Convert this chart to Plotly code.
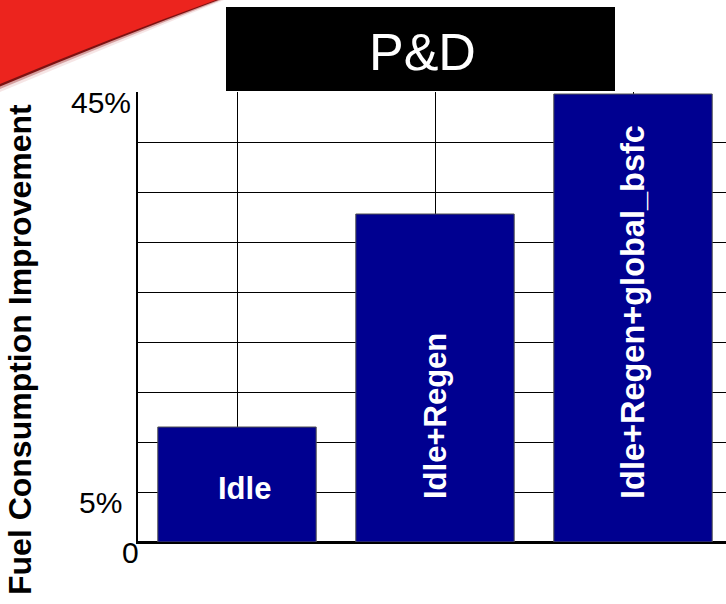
import plotly.graph_objects as go

# Chart data
categories = ["Idle", "Idle+Regen", "Idle+Regen+global_bsfc"]
improvement_pct = [11.5, 32.8, 44.8]
ytick_values = [45, 5, 0]
ytick_labels = ["45%", "5%", "0"]
title_text = "P&D"
y_title = "Fuel Consumption Improvement"

W, H = 726, 604
ML, MR, MT, MB = 138, 0, 92, 62
plot_w = W - ML - MR
plot_h = H - MT - MB
CAT_PX = 198.0  # pixels per category slot

FONT = "Liberation Sans, Arial, sans-serif"
BAR_BLUE = "#000090"


def px_x(p):
    """Convert a pixel column to paper x."""
    return (p - ML) / plot_w


def px_y(p):
    """Convert a pixel row to paper y."""
    return (H - MB - p) / plot_h


fig = go.Figure()

fig.add_trace(go.Bar(
    x=categories,
    y=improvement_pct,
    width=0.8,
    marker=dict(color=BAR_BLUE, line=dict(color="#505050", width=1)),
    hoverinfo="x+y",
    showlegend=False,
))

shapes = []

# red swoosh in the top-left corner, with a dark soft edge
def swoosh(offset, color):
    return dict(
        type="path", xref="paper", yref="paper", layer="above",
        path=(f"M {px_x(-5)},{px_y(-5)} L {px_x(220 + offset)},{px_y(-5)} "
              f"L {px_x(216 + offset)},{px_y(0)} "
              f"Q {px_x(110 + offset * 0.7)},{px_y(38 + offset * 0.7)} "
              f"{px_x(-5)},{px_y(86 + offset)} Z"),
        fillcolor=color, line=dict(width=0),
    )

shapes.append(swoosh(8, "rgba(225,170,170,0.3)"))
shapes.append(swoosh(5, "rgba(185,100,100,0.55)"))
shapes.append(swoosh(2.5, "rgb(125,18,18)"))
shapes.append(swoosh(0, "rgb(236,36,30)"))

# black title box
shapes.append(dict(
    type="rect", xref="paper", yref="paper", layer="above",
    x0=px_x(226), x1=px_x(615), y0=px_y(91), y1=px_y(7),
    fillcolor="black", line=dict(width=0),
))

annotations = []

annotations.append(dict(
    text=title_text, xref="paper", yref="paper",
    x=px_x(422), y=px_y(52), xanchor="center", yanchor="middle",
    showarrow=False, font=dict(family=FONT, size=52, color="white"),
))

# y-axis title
annotations.append(dict(
    text=y_title, xref="paper", yref="paper",
    x=px_x(20), y=px_y(350), xanchor="center", yanchor="middle",
    textangle=-90, showarrow=False,
    font=dict(family=FONT, size=32, color="black", weight="bold"),
))

# y tick labels, set a little below their gridlines
tick_right = {"45%": 133, "5%": 124, "0": 141}
for val, lab in zip(ytick_values, ytick_labels):
    annotations.append(dict(
        text=lab, xref="paper", yref="y",
        x=px_x(tick_right[lab]), y=val, yshift=-10,
        xanchor="right", yanchor="middle", showarrow=False,
        font=dict(family=FONT, size=30, color="black"),
    ))

# category labels inside the bars
label_sizes = [31, 31, 32.5]
for i, cat in enumerate(categories):
    if i == 0:
        annotations.append(dict(
            text=cat, x=cat, y=5.4, xref="x", yref="y", xshift=7,
            xanchor="center", yanchor="middle", showarrow=False,
            font=dict(family=FONT, size=label_sizes[i], color="white",
                      weight="bold"),
        ))
    else:
        annotations.append(dict(
            text=cat, x=cat, y=4.1, xref="x", yref="y",
            xanchor="center", yanchor="bottom", textangle=-90,
            showarrow=False,
            font=dict(family=FONT, size=label_sizes[i], color="white",
                      weight="bold"),
        ))

fig.update_layout(
    width=W, height=H,
    margin=dict(l=ML, r=MR, t=MT, b=MB, pad=0),
    paper_bgcolor="white", plot_bgcolor="white",
    bargap=0.2,
    shapes=shapes,
    annotations=annotations,
    xaxis=dict(
        type="category",
        range=[-0.5, -0.5 + plot_w / CAT_PX],
        showgrid=True, gridcolor="black", gridwidth=1,
        showticklabels=False, ticks="",
        showline=True, linecolor="black", linewidth=1.5,
        zeroline=False, fixedrange=True,
    ),
    yaxis=dict(
        range=[0, 45], dtick=5, tick0=0,
        showgrid=True, gridcolor="black", gridwidth=1,
        showticklabels=False, ticks="",
        showline=True, linecolor="black", linewidth=1.5,
        zeroline=True, zerolinecolor="black", zerolinewidth=1.5,
        fixedrange=True,
    ),
)

fig.write_html("out.html")
